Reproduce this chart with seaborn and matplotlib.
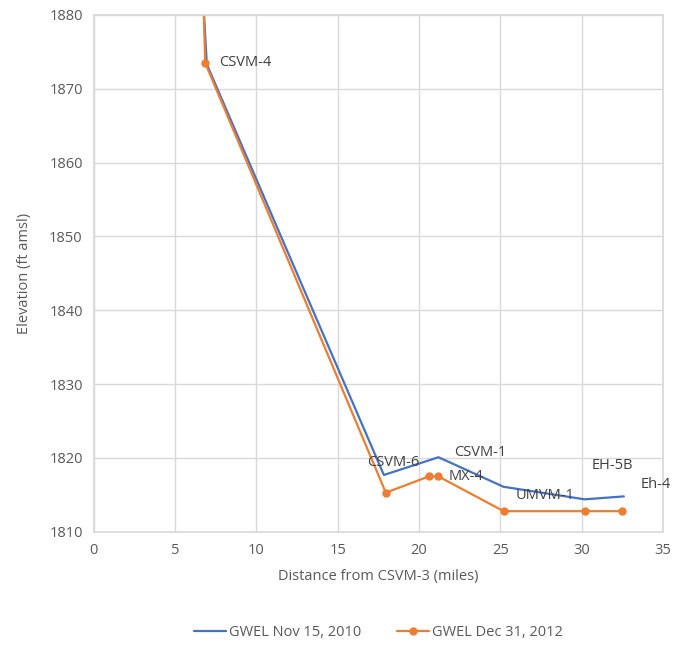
import matplotlib
matplotlib.use('Agg')
import matplotlib.pyplot as plt
import seaborn as sns
import pandas as pd

# distance (miles) / elevation (ft amsl)
dist_2010 = [6.65, 6.95, 17.84, 21.2, 25.2, 30.2, 32.6]
elev_2010 = [1885.0, 1873.3, 1817.7, 1820.1, 1816.1, 1814.4, 1814.8]

dist_2012 = [6.7, 6.85, 17.96, 20.6, 21.2, 25.2, 30.2, 32.5]
elev_2012 = [1885.0, 1873.5, 1815.3, 1817.5, 1817.5, 1812.8, 1812.8, 1812.8]

# well labels, attached to the 2012 points (index into dist_2012)
well_names = ['CSVM-4', 'CSVM-6', 'CSVM-1', 'MX-4', 'UMVM-1', 'EH-5B', 'Eh-4']
well_idx = [1, 2, 4, 4, 5, 6, 7]

sns.set_theme(style='white')
plt.rcParams['font.family'] = ['Open Sans', 'DejaVu Sans']
text_color = '#595959'

fig = plt.figure(figsize=(6.75, 6.47), dpi=100)
ax = fig.add_axes([0.139, 0.178, 0.843, 0.799])

df10 = pd.DataFrame({'dist': dist_2010, 'elev': elev_2010})
df12 = pd.DataFrame({'dist': dist_2012, 'elev': elev_2012})

sns.lineplot(data=df10, x='dist', y='elev', sort=False, estimator=None,
             color='#4472C4', linewidth=1.6, ax=ax, label='GWEL Nov 15, 2010')
sns.lineplot(data=df12, x='dist', y='elev', sort=False, estimator=None,
             color='#ED7D31', linewidth=1.6, marker='o', markersize=6,
             markeredgewidth=0, ax=ax, label='GWEL Dec 31, 2012')

offsets = [(10, 0), (5, 22), (30, 17), (20, 0), (30, 11), (20, 33), (24, 19)]
has = ['left', 'center', 'center', 'center', 'center', 'center', 'center']
for name, i, off, ha in zip(well_names, well_idx, offsets, has):
    ax.annotate(name, (dist_2012[i], elev_2012[i]), xytext=off,
                textcoords='offset points', ha=ha, va='center',
                fontsize=10.5, color='#404040')

ax.set_xlim(0, 35)
ax.set_ylim(1810, 1880)
ax.set_xticks(range(0, 36, 5))
ax.set_yticks(range(1810, 1881, 10))
ax.grid(True, color='#d9d9d9', linewidth=1)
for s in ax.spines.values():
    s.set_color('#d9d9d9')
ax.tick_params(colors=text_color, labelsize=10.5, length=0, pad=8)
ax.set_xlabel('Distance from CSVM-3 (miles)', color=text_color, fontsize=10.5, labelpad=8)
ax.set_ylabel('Elevation (ft amsl)', color=text_color, fontsize=10.5, labelpad=12)

leg = ax.legend(loc='upper center', bbox_to_anchor=(0.5, -0.155), ncol=2,
                frameon=False, fontsize=10.5, handlelength=2.2,
                handletextpad=0.2, columnspacing=2.5)
for t in leg.get_texts():
    t.set_color(text_color)

fig.savefig('out.png', dpi=100)
